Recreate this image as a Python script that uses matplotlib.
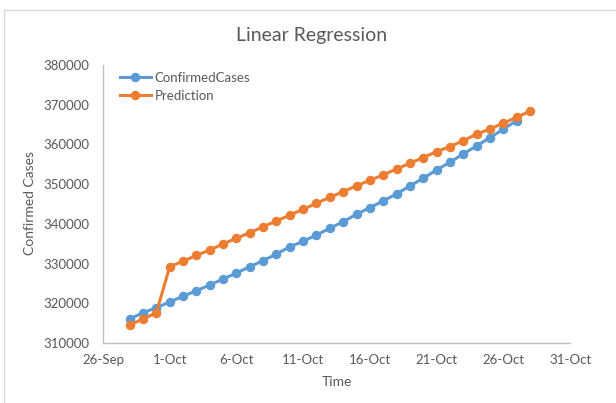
import matplotlib
matplotlib.use("Agg")
import matplotlib.pyplot as plt
import matplotlib.dates as mdates
from matplotlib.patches import Rectangle
import numpy as np
import datetime as dt

plt.rcParams['font.family'] = ['Lato', 'DejaVu Sans']

confirmed_start = "2020-09-28"
confirmed_cases = [316050, 317630, 318890, 320330, 321760, 323170, 324610, 326120,
                   327630, 329220, 330730, 332420, 334200, 335600, 337200, 338890,
                   340550, 342420, 344080, 345770, 347530, 349550, 351480, 353580,
                   355520, 357610, 359620, 361710, 363830, 366000]
prediction_start = "2020-09-28"
prediction = [314530, 316050, 317630, 329220, 330600, 332050, 333430, 334940,
              336370, 337780, 339290, 340730, 342200, 343680, 345190, 346700,
              348110, 349550, 350980, 352320, 353830, 355260, 356700, 358190,
              359450, 360960, 362570, 363900, 365340, 366850, 368360]
title = "Linear Regression"
x_label = "Time"
y_label = "Confirmed Cases"
y_ticks = [310000, 320000, 330000, 340000, 350000, 360000, 370000, 380000]
x_tick_start = "2020-09-26"
x_tick_end = "2020-10-31"

def dates_from(start, n):
    d0 = dt.datetime.strptime(start, "%Y-%m-%d")
    return [d0 + dt.timedelta(days=i) for i in range(n)]

cd = dates_from(confirmed_start, len(confirmed_cases))
pdates = dates_from(prediction_start, len(prediction))
xt0 = dt.datetime.strptime(x_tick_start, "%Y-%m-%d")
xt1 = dt.datetime.strptime(x_tick_end, "%Y-%m-%d")
xticks = [xt0 + dt.timedelta(days=5 * i) for i in range(((xt1 - xt0).days) // 5 + 1)]

W, H = 616, 403
fig = plt.figure(figsize=(W / 100, H / 100), dpi=100)
fig.patches.append(Rectangle((4 / W, -0.1), 1.2, 1 - 10 / H + 0.1, transform=fig.transFigure,
                             fill=False, edgecolor='#d9d9d9', linewidth=1))
ax = fig.add_axes([103 / W, 1 - 343 / H, (570 - 103) / W, (343 - 65) / H])

blue = '#5B9BD5'
orange = '#ED7D31'
ax.plot(cd, confirmed_cases, color=blue, lw=2.2, marker='o', ms=5.8, label='ConfirmedCases')
ax.plot(pdates, prediction, color=orange, lw=2.2, marker='o', ms=5.8, label='Prediction')

ax.set_xlim(xt0, xt1)
ax.set_ylim(y_ticks[0], y_ticks[-1])
ax.set_yticks(y_ticks)
ax.set_yticklabels([str(v) for v in y_ticks])
ax.set_xticks(xticks)
ax.set_xticklabels([d.strftime('%-d-%b') for d in xticks])

for s in ['top', 'right']:
    ax.spines[s].set_visible(False)
for s in ['left', 'bottom']:
    ax.spines[s].set_color('#bfbfbf')
    ax.spines[s].set_linewidth(1)
ax.tick_params(length=0, colors='#595959', labelsize=9.5, pad=8)
ax.tick_params(axis='y', pad=10)

fig.text(312 / W, 1 - 36 / H, title, ha='center', va='center', fontsize=14, color='#595959')
fig.text(337 / W, 1 - 382 / H, x_label, ha='center', va='center', fontsize=10, color='#595959')
fig.text(30 / W, 1 - 203 / H, y_label, ha='center', va='center', fontsize=10, color='#595959',
         rotation=90)

leg = ax.legend(loc='upper left', bbox_to_anchor=(10 / 467, 1.0), frameon=False, fontsize=9.5,
                handlelength=2.4, handletextpad=0.25, labelspacing=0.45, borderaxespad=0.3,
                borderpad=0.2)
for t in leg.get_texts():
    t.set_color('#595959')

fig.savefig('out.png', dpi=100)
